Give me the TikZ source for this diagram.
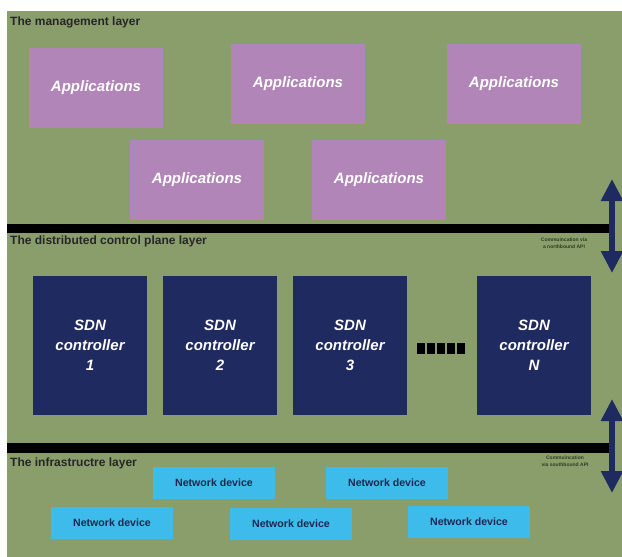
\documentclass[tikz,border=0pt]{standalone}
\usepackage{fontspec}
\setmainfont{Liberation Sans}
\usetikzlibrary{arrows.meta}
\definecolor{layerbg}{HTML}{8A9E6C}
\definecolor{appfill}{HTML}{B185B8}
\definecolor{sdnfill}{HTML}{1E2A60}
\definecolor{devfill}{HTML}{3DBCEC}
\definecolor{devtext}{HTML}{1C2850}
\definecolor{commtext}{HTML}{2E3C22}
\begin{document}
\begin{tikzpicture}[x=1pt,y=-1pt,
	app/.style={fill=appfill,minimum width=134pt,minimum height=80pt,inner sep=0pt,text=white,font=\bfseries\itshape\fontsize{15}{18}\selectfont},
	sdn/.style={fill=sdnfill,minimum width=114pt,minimum height=139pt,inner sep=0pt,text=white,align=center,font=\bfseries\itshape\fontsize{15}{20}\selectfont},
	dev/.style={fill=devfill,minimum width=122pt,minimum height=32pt,inner sep=0pt,text=devtext,font=\bfseries\fontsize{10.6}{12}\selectfont},
	layer/.style={anchor=base west,inner sep=0pt,text=black!85,font=\bfseries\fontsize{12}{14}\selectfont},
	comm/.style={align=center,inner sep=0pt,text=commtext,font=\bfseries\fontsize{5}{7}\selectfont},
	api/.style={draw=sdnfill,line width=6pt,{Triangle[width=21pt,length=22pt]}-{Triangle[width=21pt,length=22pt]}}]
		\useasboundingbox (0,0) rectangle (622,557);
		\fill[layerbg] (7,11) rectangle (622,557);
		% layer borders
		\fill[black] (7,224) rectangle (612,233);
		\fill[black] (7,443) rectangle (612,453);
		\node[layer] (mgmt) at (10,25) {The management layer};
		\node[layer] (ctrl) at (10,244) {The distributed control plane layer};
		\node[layer] (infra) at (10,466) {The infrastructre layer};
		% applications
		\node[app] (app1) at (96,88) {Applications};
		\node[app] (app2) at (298,84) {Applications};
		\node[app] (app3) at (514,84) {Applications};
		\node[app] (app4) at (197,180) {Applications};
		\node[app] (app5) at (379,180) {Applications};
		% controllers
		\node[sdn] (sdn1) at (90,345) {SDN\\controller\\1};
		\node[sdn] (sdn2) at (220,345) {SDN\\controller\\2};
		\node[sdn] (sdn3) at (350,345) {SDN\\controller\\3};
		\node[sdn] (sdnN) at (534,345) {SDN\\controller\\N};
		\foreach \i in {0,...,4}
			\fill[black] (417+10*\i,343) rectangle ++(8,11);
		% devices
		\node[dev] (dev1) at (214,483) {Network device};
		\node[dev] (dev2) at (387,483) {Network device};
		\node[dev] (dev3) at (112,523) {Network device};
		\node[dev] (dev4) at (291,524) {Network device};
		\node[dev] (dev5) at (469,522) {Network device};
		% APIs
		\coordinate (nbtop) at (612,179);
		\coordinate (nbbot) at (612,273);
		\coordinate (sbtop) at (612,399);
		\coordinate (sbbot) at (612,493);
		\draw[api] (nbtop) -- (nbbot);
		\draw[api] (sbtop) -- (sbbot);
		\node[comm] (nbapi) at (564,243) {Commuincation via\\a northbound API};
		\node[comm] (sbapi) at (565,461) {Commuincation\\via southbound API};
	\end{tikzpicture}
\end{document}
